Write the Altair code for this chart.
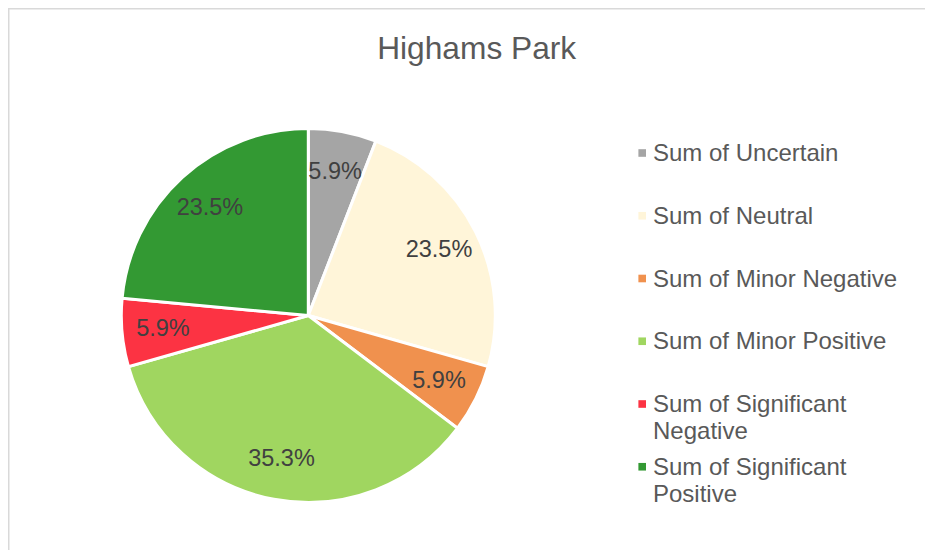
import altair as alt
import pandas as pd

title_text = "Highams Park"
categories = ["Sum of Uncertain", "Sum of Neutral", "Sum of Minor Negative",
              "Sum of Minor Positive", "Sum of Significant Negative", "Sum of Significant Positive"]
legend_labels = ["Sum of Uncertain", "Sum of Neutral", "Sum of Minor Negative",
                 "Sum of Minor Positive", "Sum of Significant|Negative", "Sum of Significant|Positive"]
counts = [1, 4, 1, 6, 1, 4]
colors = ["#a5a5a5", "#fff5d9", "#f0914e", "#a0d660", "#fc3343", "#339933"]

FONT = "Liberation Sans, Arial, Helvetica, sans-serif"
W, H = 917, 542
CX, CY = 300.3, 307.5

df = pd.DataFrame({
    "category": categories,
    "label": legend_labels,
    "count": counts,
    "idx": list(range(len(categories))),
})

color_scale = alt.Scale(domain=categories, range=colors)

base = alt.Chart(df).transform_joinaggregate(total="sum(count)").transform_calculate(
    pct="format(datum.count / datum.total, '.1%')"
)

arcs = base.mark_arc(radius=187, stroke="white", strokeWidth=3).encode(
    theta=alt.Theta("count:Q", stack=True),
    order=alt.Order("idx:Q"),
    color=alt.Color("category:N", scale=color_scale, legend=None),
    x=alt.value(CX),
    y=alt.value(CY),
)

labels = base.mark_text(radius=146, fontSize=23.5, font=FONT, color="#404040").encode(
    theta=alt.Theta("count:Q", stack=True),
    order=alt.Order("idx:Q"),
    text="pct:N",
    x=alt.value(CX),
    y=alt.value(CY),
)

y_leg = alt.Y("category:N", sort=categories, axis=None,
              scale=alt.Scale(range=[153, 466.75], padding=0))

leg_sq = alt.Chart(df).mark_square(size=58, opacity=1, filled=True, yOffset=-8).encode(
    x=alt.value(634.2),
    y=y_leg,
    color=alt.Color("category:N", scale=color_scale, legend=None),
)

leg_txt = alt.Chart(df).transform_calculate(
    lines="split(datum.label, '|')"
).mark_text(align="left", baseline="alphabetic", fontSize=24, font=FONT,
            color="#595959", lineHeight=27).encode(
    x=alt.value(645),
    y=y_leg,
    text="lines:N",
)

tdf = pd.DataFrame({"t": [title_text]})
title = alt.Chart(tdf).mark_text(fontSize=31.7, font=FONT, color="#595959",
                                 baseline="alphabetic", align="center").encode(
    x=alt.value(468.7), y=alt.value(50.5), text="t:N")

bdf = pd.DataFrame({"b": [0]})
top_border = alt.Chart(bdf).mark_rule(color="#d9d9d9", strokeWidth=1.5).encode(
    x=alt.value(0), x2=alt.value(W), y=alt.value(0.75))
left_border = alt.Chart(bdf).mark_rule(color="#d9d9d9", strokeWidth=1.5).encode(
    x=alt.value(0.75), y=alt.value(0), y2=alt.value(H))

chart = alt.layer(top_border, left_border, arcs, labels, leg_sq, leg_txt, title).properties(
    width=W, height=H, padding=0, autosize=alt.AutoSizeParams(type="none")
).configure_view(stroke=None).configure(background="white")

chart.save("out.html", embed_options={"renderer": "svg", "actions": False})
